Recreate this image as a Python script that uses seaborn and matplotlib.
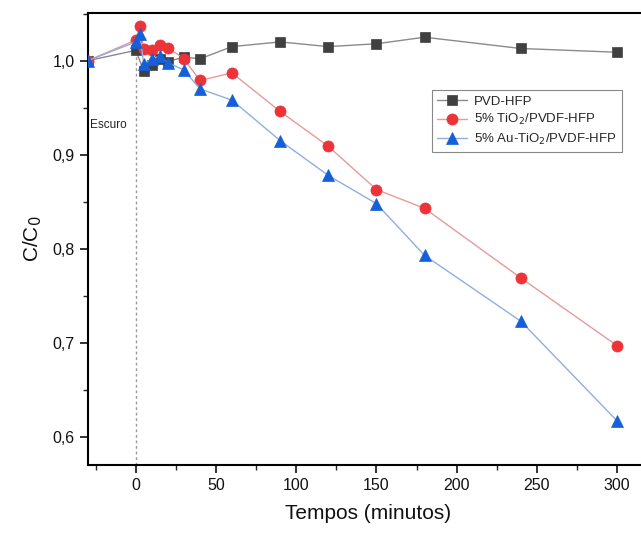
import matplotlib
matplotlib.use("Agg")
import matplotlib.pyplot as plt
import seaborn as sns
import pandas as pd
from matplotlib.ticker import MultipleLocator, FuncFormatter

sns.set_theme(style="white")
plt.rcParams['font.family'] = ['Liberation Sans', 'DejaVu Sans']

# Data
t_pvd = [-30, 0, 5, 10, 15, 20, 30, 40, 60, 90, 120, 150, 180, 240, 300]
v_pvd = [1.000, 1.011, 0.989, 0.995, 1.002, 0.999, 1.004, 1.002, 1.015, 1.020, 1.015, 1.018, 1.025, 1.013, 1.009]

t_tio2 = [-30, 0, 2.5, 5, 10, 15, 20, 30, 40, 60, 90, 120, 150, 180, 240, 300]
v_tio2 = [1.000, 1.022, 1.037, 1.012, 1.011, 1.017, 1.014, 1.002, 0.979, 0.987, 0.946, 0.909, 0.863, 0.843, 0.769, 0.697]

t_au = [-30, 0, 2.5, 5, 10, 15, 20, 30, 40, 60, 90, 120, 150, 180, 240, 300]
v_au = [1.000, 1.020, 1.028, 0.996, 1.002, 1.005, 0.998, 0.990, 0.970, 0.958, 0.915, 0.878, 0.848, 0.793, 0.723, 0.617]

labels = ["PVD-HFP", "5% TiO$_2$/PVDF-HFP", "5% Au-TiO$_2$/PVDF-HFP"]

fig = plt.figure(figsize=(6.41, 5.35), dpi=100)
ax = fig.add_axes([0.1368, 0.1308, 0.8758, 0.8443])

series = [
    (t_pvd, v_pvd, labels[0], 's', 7.0, '#404040', '#8a8a8a'),
    (t_tio2, v_tio2, labels[1], 'o', 8.0, '#ee3338', '#e89a9a'),
    (t_au, v_au, labels[2], '^', 8.5, '#1560d8', '#90aee0'),
]
for t, v, lab, mk, ms, mc, lc in series:
    df = pd.DataFrame({"t": t, "v": v})
    sns.lineplot(data=df, x="t", y="v", ax=ax, color=lc, lw=1.0, marker=mk,
                 markersize=ms, markerfacecolor=mc, markeredgecolor=mc,
                 markeredgewidth=0.5, label=lab, sort=False, zorder=3)

ax.vlines(0, 0.57, 1.02, colors='#9a9a9a', linestyles=(0, (2, 2)), lw=1.0, zorder=1)
ax.text(-28.5, 0.9315, "Escuro", fontsize=8.5, color='#222222', va='center', ha='left')

ax.set_xlim(-30, 320)
ax.set_ylim(0.570, 1.0504)
ax.xaxis.set_major_locator(MultipleLocator(50))
ax.xaxis.set_minor_locator(MultipleLocator(25))
ax.yaxis.set_major_locator(MultipleLocator(0.1))
ax.yaxis.set_minor_locator(MultipleLocator(0.05))
ax.yaxis.set_major_formatter(FuncFormatter(lambda v, p: f"{v:.1f}".replace('.', ',')))
ax.xaxis.set_major_formatter(FuncFormatter(lambda v, p: f"{v:.0f}"))

ax.tick_params(axis='both', which='major', direction='out', length=6, width=1.2,
               labelsize=11.5, colors='#111111', bottom=True, left=True)
ax.tick_params(axis='both', which='minor', direction='out', length=3.5, width=1.0,
               bottom=True, left=True)
ax.tick_params(top=False, right=False, which='both')
for sp in ax.spines.values():
    sp.set_color('black')
    sp.set_linewidth(1.5)

ax.set_xlabel("Tempos (minutos)", fontsize=15, labelpad=8, color='#111111')
ax.set_ylabel("C/C$_0$", fontsize=15, labelpad=6, color='#111111')

leg = ax.legend(loc='upper left', bbox_to_anchor=(0.613, 0.830), fontsize=9.5,
                frameon=True, fancybox=False, edgecolor='#888888', framealpha=1,
                handlelength=2.3, handletextpad=0.5, borderpad=0.4, labelspacing=0.35,
                borderaxespad=0)
leg.get_frame().set_linewidth(0.8)

fig.savefig("out.png", dpi=100)
